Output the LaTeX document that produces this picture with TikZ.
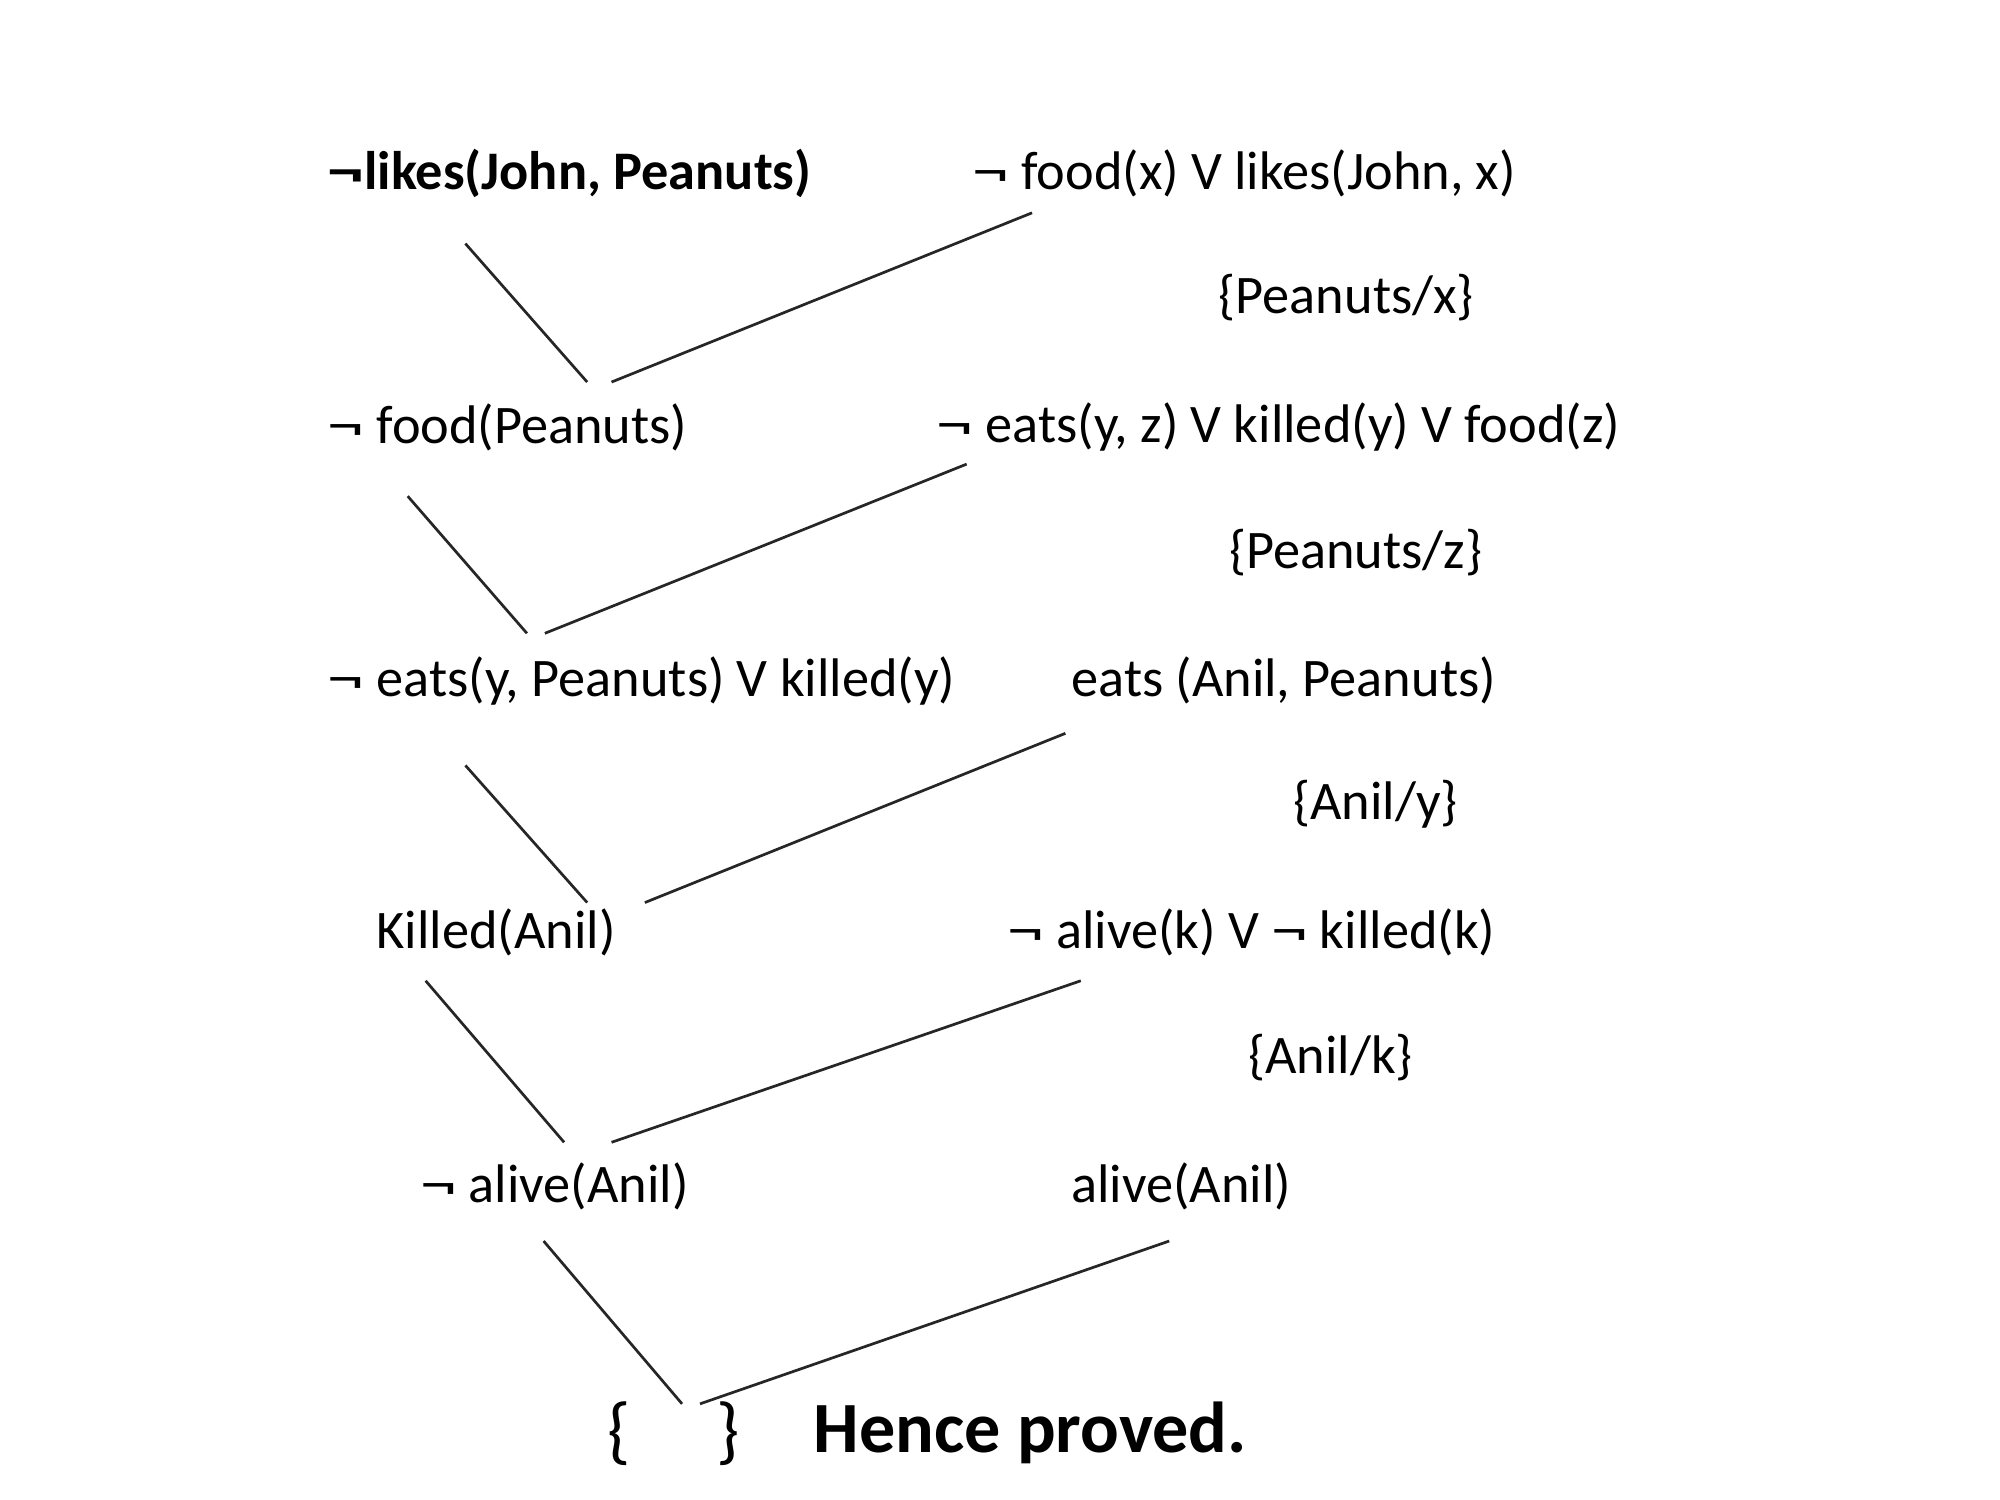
\documentclass[tikz,border=0pt]{standalone}
\usepackage{fontspec}
\setmainfont{Carlito}
\newcommand\negsym{\scalebox{1.35}[1]{¬}}
\begin{document}
\begin{tikzpicture}[x=0.01cm,y=-0.01cm,
  clause/.style={anchor=west,inner sep=0pt,font=\fontsize{12.05}{14}\selectfont},
  boldclause/.style={clause,font=\fontsize{12.05}{14}\selectfont\bfseries},
  final/.style={anchor=west,inner sep=0pt,font=\fontsize{16}{19}\selectfont\bfseries},
  link/.style={line width=0.6pt,black!85}]
\useasboundingbox (0,0) rectangle (1560,1170);
% clauses
\node[boldclause] (n1) at (255,135) {\negsym likes(John, Peanuts)};
\node[clause] (n2) at (758,135) {\negsym\ food(x) V likes(John, x)};
\node[clause] (s1) at (950,232) {\{Peanuts/x\}};
\node[clause] (n3) at (255,333) {\negsym\ food(Peanuts)};
\node[clause] (n4) at (730,333) {\negsym\ eats(y, z) V killed(y) V food(z)};
\node[clause] (s2) at (958,431) {\{Peanuts/z\}};
\node[clause] (n5) at (255,531) {\negsym\ eats(y, Peanuts) V killed(y)};
\node[clause] (n6) at (835,531) {eats (Anil, Peanuts)};
\node[clause] (s3) at (1008,627) {\{Anil/y\}};
\node[clause] (n7) at (293,727) {Killed(Anil)};
\node[clause] (n8) at (785,727) {\negsym\ alive(k) V \negsym\ killed(k)};
\node[clause] (s4) at (973,825) {\{Anil/k\}};
\node[clause] (n9) at (327,925) {\negsym\ alive(Anil)};
\node[clause] (n10) at (835,925) {alive(Anil)};
\node[anchor=west,inner sep=0pt,font=\fontsize{16.5}{19}\selectfont] (n11) at (473,1118) {\{\hspace{19pt}\}};
\node[final] (hp) at (634,1118) {Hence proved.};
% connector end points
\coordinate (a1) at (363,190); \coordinate (a2) at (458,298);
\coordinate (b1) at (805,166); \coordinate (b2) at (477,298);
\coordinate (c1) at (318,387); \coordinate (c2) at (411,494);
\coordinate (d1) at (754,362); \coordinate (d2) at (425,494);
\coordinate (e1) at (363,597); \coordinate (e2) at (458,704);
\coordinate (f1) at (831,572); \coordinate (f2) at (503,704);
\coordinate (g1) at (332,765); \coordinate (g2) at (440,891);
\coordinate (h1) at (843,765); \coordinate (h2) at (477,891);
\coordinate (i1) at (424,968); \coordinate (i2) at (532,1095);
\coordinate (j1) at (912,968); \coordinate (j2) at (546,1095);
\draw[link] (a1) -- (a2);
\draw[link] (b1) -- (b2);
\draw[link] (c1) -- (c2);
\draw[link] (d1) -- (d2);
\draw[link] (e1) -- (e2);
\draw[link] (f1) -- (f2);
\draw[link] (g1) -- (g2);
\draw[link] (h1) -- (h2);
\draw[link] (i1) -- (i2);
\draw[link] (j1) -- (j2);
\end{tikzpicture}
\end{document}
